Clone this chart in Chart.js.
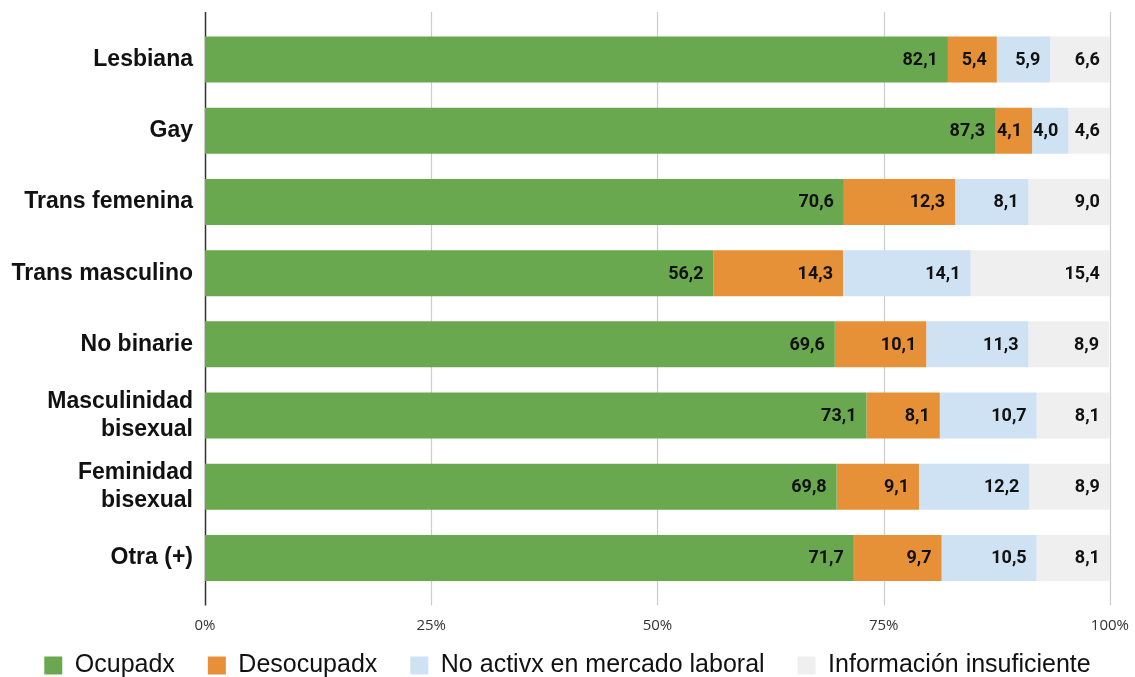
<!DOCTYPE html>
<html>
<head>
<meta charset="utf-8">
<script src="https://cdn.jsdelivr.net/npm/chart.js@4.4.0/dist/chart.umd.min.js"></script>
<style>
  html, body { margin: 0; padding: 0; background: #fff; }
  #wrap { width: 1135px; height: 677px; }
</style>
</head>
<body>
<div id="wrap"><canvas id="chart"></canvas></div>
<script>
// Categories and series values (percent)
const categories = [
    'Lesbiana', 'Gay', 'Trans femenina', 'Trans masculino', 'No binarie',
    ['Masculinidad', 'bisexual'], ['Feminidad', 'bisexual'], 'Otra (+)'
];
const ocupadx      = [82.1, 87.3, 70.6, 56.2, 69.6, 73.1, 69.8, 71.7];
const desocupadx   = [5.4, 4.1, 12.3, 14.3, 10.1, 8.1, 9.1, 9.7];
const noActivx     = [5.9, 4.0, 8.1, 14.1, 11.3, 10.7, 12.2, 10.5];
const infoInsuf    = [6.6, 4.6, 9.0, 15.4, 8.9, 8.1, 8.9, 8.1];
const seriesNames  = ['Ocupadx', 'Desocupadx', 'No activx en mercado laboral', 'Información insuficiente'];
const tickValues   = [0, 25, 50, 75, 100];

const colors = ['#6aa84f', '#e69138', '#cfe2f3', '#efefef'];

// Grid lines that reach a bit past the plot area, like the original
const gridPlugin = {
    id: 'extGrid',
    beforeDatasetsDraw(chart) {
        const { ctx, chartArea, scales } = chart;
        ctx.save();
        tickValues.forEach(v => {
            const x = Math.round(scales.x.getPixelForValue(v)) + 0.5;
            ctx.beginPath();
            ctx.strokeStyle = v === 0 ? '#333333' : '#cccccc';
            ctx.lineWidth = v === 0 ? 1.5 : 1.2;
            ctx.moveTo(x, chartArea.top - 12);
            ctx.lineTo(x, chartArea.bottom + 12);
            ctx.stroke();
        });
        ctx.restore();
    }
};

// Value labels, right aligned inside each segment
const labelPlugin = {
    id: 'segLabels',
    afterDatasetsDraw(chart) {
        const { ctx } = chart;
        ctx.save();
        ctx.font = 'bold 18px Roboto';
        ctx.fillStyle = '#111111';
        ctx.textAlign = 'right';
        ctx.textBaseline = 'middle';
        chart.data.datasets.forEach((ds, i) => {
            chart.getDatasetMeta(i).data.forEach((bar, j) => {
                const txt = ds.data[j].toFixed(1).replace('.', ',');
                ctx.fillText(txt, bar.x - 10, bar.y + 1);
            });
        });
        ctx.restore();
    }
};

// Pull the legend up a little, closer to the axis labels
const legendShift = {
    id: 'legendShift',
    afterLayout(chart) {
        const lg = chart.legend;
        const h = lg.height;
        lg.top = 620;
        lg.bottom = 620 + h;
    }
};

const ctx = document.getElementById('chart').getContext('2d');
new Chart(ctx, {
    type: 'bar',
    data: {
        labels: categories,
        datasets: [ocupadx, desocupadx, noActivx, infoInsuf].map((d, i) => ({
            label: seriesNames[i],
            data: d,
            backgroundColor: colors[i],
            borderWidth: 0,
            barPercentage: 0.646,
            categoryPercentage: 1
        }))
    },
    options: {
        indexAxis: 'y',
        responsive: true,
        maintainAspectRatio: false,
        animation: false,
        layout: { padding: { top: 24, right: 0, left: 0, bottom: -27.5 } },
        scales: {
            x: {
                stacked: true,
                min: 0,
                max: 100,
                afterBuildTicks: s => { s.ticks = tickValues.map(v => ({ value: v })); },
                afterFit: s => { s.height = 43; },
                ticks: {
                    callback: v => v + '%',
                    font: { family: 'Open Sans', size: 15 },
                    color: '#333333',
                    padding: 6,
                    maxRotation: 0
                },
                grid: { display: false, tickLength: 17 },
                border: { display: false }
            },
            y: {
                stacked: true,
                afterFit: s => { s.width = 205; },
                ticks: {
                    font: { family: 'Liberation Sans', size: 23, weight: 'bold', lineHeight: 1.22 },
                    color: '#111111',
                    padding: 4
                },
                grid: { display: false },
                border: { display: false }
            }
        },
        plugins: {
            legend: {
                position: 'bottom',
                labels: {
                    boxWidth: 18,
                    boxHeight: 18,
                    padding: 33,
                    color: '#111111',
                    font: { family: 'Liberation Sans', size: 25 }
                }
            },
            tooltip: { enabled: false }
        }
    },
    plugins: [gridPlugin, labelPlugin, legendShift]
});
</script>
</body>
</html>
